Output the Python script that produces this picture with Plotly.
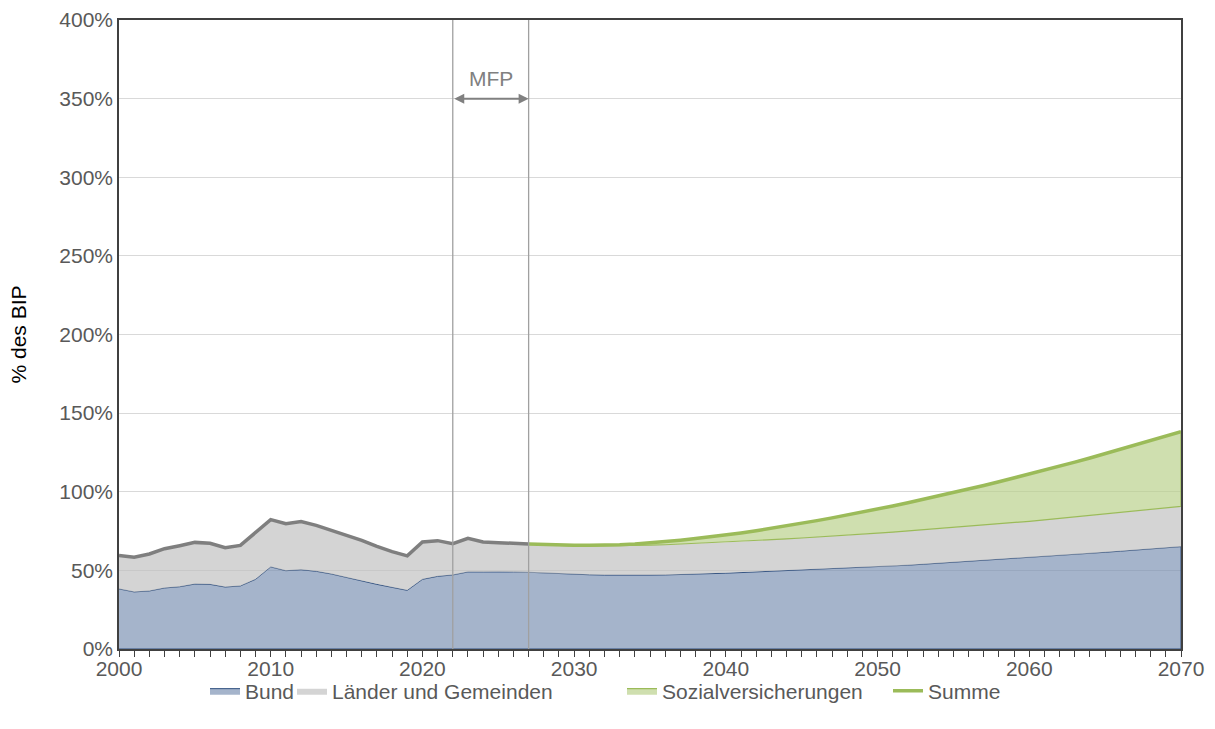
import plotly.graph_objects as go

years = list(range(2000, 2071))

# Bund (% des BIP)
bund = [38.2, 36.3, 36.9, 38.8, 39.6, 41.3, 41.1, 39.4, 40.1, 44.3,
        52.2, 49.8, 50.4, 49.4, 47.7, 45.4, 43.4, 41.1, 39.2, 37.3,
        44.3, 46.2, 47.1, 49.0, 49.0, 49.2, 49.0,
        48.8, 48.3, 47.9, 47.5, 47.2, 47.0, 46.9, 46.9, 47.0, 47.1,
        47.3, 47.6, 47.9, 48.2, 48.6, 49.0, 49.4, 49.9, 50.4, 50.8,
        51.2, 51.6, 51.9, 52.2, 52.7, 53.3, 53.9, 54.5, 55.1, 55.7,
        56.4, 57.0, 57.6, 58.3, 58.9, 59.5, 60.1, 60.8, 61.5, 62.2,
        62.9, 63.6, 64.3, 65.1]

# Länder und Gemeinden (% des BIP)
laender = [21.3, 22.0, 23.5, 25.0, 26.1, 26.5, 26.1, 25.0, 25.8, 29.5,
           30.1, 29.9, 30.6, 29.2, 27.7, 26.9, 25.7, 24.2, 22.7, 21.9,
           23.8, 22.7, 19.9, 21.4, 19.1, 18.4, 18.2,
           18.0, 17.9, 17.9, 18.1, 18.3, 18.5, 18.7, 18.9, 19.0, 19.2,
           19.3, 19.4, 19.5, 19.7, 19.8, 19.9, 20.1, 20.1, 20.2, 20.4,
           20.6, 20.8, 21.1, 21.5, 21.6, 21.7, 21.8, 21.9, 22.1, 22.3,
           22.4, 22.6, 22.8, 22.9, 23.2, 23.5, 23.8, 24.1, 24.4, 24.7,
           24.9, 25.2, 25.4, 25.6]

# Sozialversicherungen (% des BIP), projection years 2027-2070
years_proj = list(range(2027, 2071))
sozial = [0.0, 0.2, 0.3, 0.3, 0.4, 0.5, 0.7, 1.0, 1.5, 2.0,
          2.6, 3.2, 3.9, 4.6, 5.4, 6.3, 7.2, 8.3, 9.35, 10.45,
          11.6, 12.8, 14.05, 15.25, 16.65, 18.0, 19.4, 20.85, 22.25, 23.7,
          25.2, 26.75, 28.35, 30.0, 31.6, 33.25, 34.95, 36.6, 38.3, 40.0,
          41.9, 43.7, 45.65, 47.55]

mfp_start, mfp_end = 2022, 2027

# stacked levels
lvl_bund = bund
lvl_laender = [b + l for b, l in zip(bund, laender)]
off = years.index(2027)
lvl_proj_base = lvl_laender[off:]
lvl_summe_proj = [a + s for a, s in zip(lvl_proj_base, sozial)]
summe_hist_years = years[:off + 1]
summe_hist = lvl_laender[:off + 1]

FONT = "Liberation Sans, Arial, sans-serif"
TXT = "#595959"
FS = 21

fig = go.Figure()

# Bund area (closed polygon with outline)
fig.add_trace(go.Scatter(
    x=years + [years[-1], years[0]], y=lvl_bund + [0, 0],
    fill="toself", fillcolor="rgba(123,145,179,0.68)",
    line=dict(color="#2F4F7F", width=1), mode="lines",
    name="Bund", hoverinfo="skip", legend="legend"))

# Länder und Gemeinden area (between bund and laender level)
fig.add_trace(go.Scatter(
    x=years + years[::-1], y=lvl_laender + lvl_bund[::-1],
    fill="toself", fillcolor="rgba(192,192,192,0.68)",
    line=dict(color="rgba(0,0,0,0)", width=0), mode="lines",
    name="Länder und Gemeinden", hoverinfo="skip", legend="legend2"))

# Sozialversicherungen area
fig.add_trace(go.Scatter(
    x=years_proj + years_proj[::-1], y=lvl_summe_proj + lvl_proj_base[::-1],
    fill="toself", fillcolor="rgba(184,208,137,0.68)",
    line=dict(color="#9BBB59", width=1.2), mode="lines",
    name="Sozialversicherungen", hoverinfo="skip", legend="legend3"))

# Summe historical (grey)
fig.add_trace(go.Scatter(
    x=summe_hist_years, y=summe_hist, mode="lines",
    line=dict(color="#7F7F7F", width=3.5), showlegend=False, hoverinfo="skip"))

# Summe projection (green)
fig.add_trace(go.Scatter(
    x=years_proj, y=lvl_summe_proj, mode="lines",
    line=dict(color="#9BBB59", width=3.5), name="Summe", hoverinfo="skip",
    legend="legend4"))

# MFP lines and arrow
for xv in (mfp_start, mfp_end):
    fig.add_shape(type="line", x0=xv, x1=xv, y0=0, y1=1, xref="x", yref="y domain",
                  line=dict(color="#A0A0A0", width=1.3), layer="above")
fig.add_annotation(x=mfp_end, y=350, ax=mfp_start, ay=350, xref="x", yref="y",
                   axref="x", ayref="y", showarrow=True, arrowhead=2, arrowside="end+start",
                   arrowsize=1, arrowwidth=2, arrowcolor="#808080", text="")
fig.add_annotation(x=(mfp_start + mfp_end) / 2, y=350, xref="x", yref="y",
                   text="MFP", showarrow=False, yshift=20,
                   font=dict(family=FONT, size=FS, color="#808080"))


def leg(xpix):
    return dict(orientation="h", xref="container", yref="container",
                x=xpix / 1215, xanchor="left", y=1 - 691 / 729, yanchor="middle",
                bgcolor="rgba(0,0,0,0)", itemwidth=30,
                font=dict(family=FONT, size=FS, color=TXT))


fig.update_layout(
    width=1215, height=729,
    margin=dict(l=119, r=34, t=20, b=80, autoexpand=False),
    paper_bgcolor="white", plot_bgcolor="white",
    font=dict(family=FONT, size=FS, color=TXT),
    legend=leg(205), legend2=leg(292), legend3=leg(622), legend4=leg(888),
    showlegend=True,
)
fig.update_xaxes(
    range=[2000, 2070], tickmode="linear", tick0=2000, dtick=10,
    showgrid=False, showline=True, linecolor="#404040", linewidth=1.5, mirror=True,
    ticks="outside", ticklen=6, tickcolor="#404040", tickwidth=1.3,
    ticklabelstandoff=-6,
    minor=dict(tickmode="linear", tick0=2000, dtick=1, ticks="outside", ticklen=6,
               tickcolor="#404040", tickwidth=1.3, showgrid=False),
    tickfont=dict(family=FONT, size=FS, color=TXT), zeroline=False,
    automargin=False, layer="above traces")
fig.update_yaxes(
    range=[0, 400], tickmode="linear", tick0=0, dtick=50, ticksuffix="%",
    showgrid=True, gridcolor="#D9D9D9", gridwidth=1,
    showline=True, linecolor="#404040", linewidth=1.5, mirror=True,
    ticks="", tickfont=dict(family=FONT, size=FS, color=TXT), zeroline=False,
    title=dict(text="% des BIP", font=dict(family=FONT, size=FS, color="#000000"), standoff=27),
    automargin=False, layer="above traces")

fig.write_html("out.html", config={"displayModeBar": False},
               post_script="document.body.style.margin='0';")
